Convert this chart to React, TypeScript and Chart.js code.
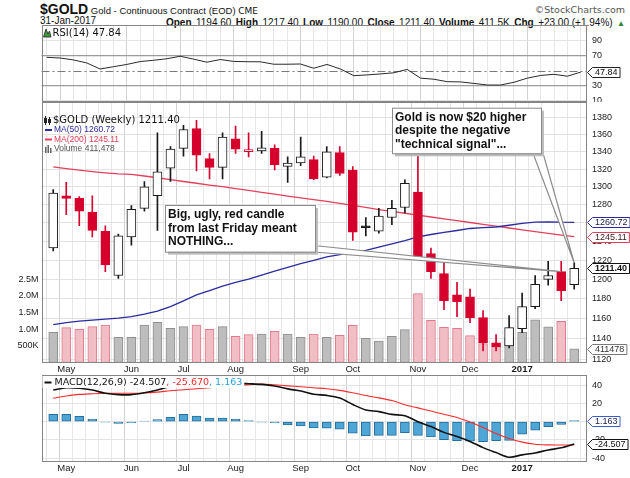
import React, { useEffect, useRef } from 'react';
import { Chart, registerables } from 'chart.js';

Chart.register(...registerables);

const SANS = "'Liberation Sans', Arial, Helvetica, sans-serif";
const NARROW = "'Liberation Sans Narrow', 'Arial Narrow', 'Liberation Sans', Arial, sans-serif";
const VERD = "'DejaVu Sans', Verdana, sans-serif";

// ---------------- data (weekly, $GOLD) ----------------
const weeks = [
  '2016-04-25', '2016-05-02', '2016-05-09', '2016-05-16', '2016-05-23', '2016-05-30',
  '2016-06-06', '2016-06-13', '2016-06-20', '2016-06-27', '2016-07-04', '2016-07-11',
  '2016-07-18', '2016-07-25', '2016-08-01', '2016-08-08', '2016-08-15', '2016-08-22',
  '2016-08-29', '2016-09-05', '2016-09-12', '2016-09-19', '2016-09-26', '2016-10-03',
  '2016-10-10', '2016-10-17', '2016-10-24', '2016-10-31', '2016-11-07', '2016-11-14',
  '2016-11-21', '2016-11-28', '2016-12-05', '2016-12-12', '2016-12-19', '2016-12-26',
  '2017-01-02', '2017-01-09', '2017-01-16', '2017-01-23', '2017-01-30',
];
const opens = [
  1233, 1290, 1287, 1272, 1251, 1204, 1245, 1276, 1290, 1321,
  1344, 1367, 1332, 1322, 1355, 1340, 1341, 1344, 1323, 1327,
  1331, 1311, 1339, 1319, 1257, 1251, 1266, 1277, 1294, 1227,
  1206, 1184, 1182, 1161, 1136, 1133, 1150, 1172, 1200, 1208, 1194.6,
];
const highs = [
  1297, 1305, 1289, 1290, 1257, 1248, 1279, 1306, 1362, 1346,
  1371, 1377, 1338, 1362, 1370, 1362, 1364, 1348, 1334, 1357,
  1335, 1346, 1346, 1323, 1266, 1276, 1285, 1308, 1338, 1233,
  1221, 1197, 1190, 1168, 1144, 1163, 1186, 1204, 1219, 1219, 1217.4,
];
const lows = [
  1230, 1269, 1257, 1245, 1208, 1201, 1236, 1273, 1252, 1306,
  1335, 1318, 1309, 1309, 1338, 1334, 1338, 1319, 1305, 1324,
  1308, 1310, 1313, 1241, 1246, 1249, 1258, 1271, 1222, 1201,
  1169, 1162, 1156, 1128, 1128, 1131, 1146, 1170, 1194, 1178, 1190,
];
const closes = [
  1293, 1287, 1273, 1252, 1215, 1246, 1275, 1300, 1317, 1343,
  1366, 1336, 1322, 1357, 1343, 1342.5, 1344.5, 1325, 1327, 1334,
  1309, 1340, 1315, 1250, 1255, 1267.5, 1276, 1304, 1223, 1208,
  1178, 1177, 1161, 1136, 1132, 1151, 1172, 1195, 1204, 1188.4, 1211.4,
];
const volumes = [
  907000, 1045000, 997000, 1075000, 1126000, 757000, 757000, 1126000, 1207000, 1027000,
  1075000, 1126000, 997000, 1075000, 787000, 835000, 856000, 937000, 856000, 757000,
  856000, 757000, 816000, 1117000, 727000, 646000, 787000, 985000, 2066000, 1267000,
  1057000, 1027000, 805000, 565000, 480000, 750000, 907000, 1280000, 1070000, 1237000, 411478,
];
const ma50 = [
  1154, 1156, 1157.5, 1158.5, 1159.5, 1160.5, 1162, 1164.5, 1167.5, 1172,
  1178, 1184, 1188.5, 1193, 1197, 1200.3, 1204.5, 1208.5, 1212.5, 1216.5,
  1220, 1223.5, 1226, 1228.5, 1230.5, 1234, 1237.5, 1241, 1245, 1247.5,
  1249.8, 1251.8, 1254, 1255, 1255.6, 1257.5, 1259.5, 1261, 1261.2, 1260.8, 1260.72,
];
const ma200 = [
  1322.6, 1320.6, 1318.8, 1317.2, 1315.8, 1314.6, 1314, 1312.2, 1310.2, 1308.1,
  1306, 1304, 1302, 1300.2, 1298, 1296, 1293.8, 1291.7, 1289.5, 1287.6,
  1285.7, 1283.8, 1281.5, 1279.2, 1277, 1274.7, 1272.6, 1270.6, 1268.5, 1266.5,
  1264.5, 1262.5, 1260.5, 1258.5, 1256.6, 1254.5, 1252.5, 1250.5, 1248.6, 1246.8, 1245.11,
];
const rsi = [
  67.4, 66.5, 64, 60, 52, 55, 58, 61.8, 63.5, 65.5,
  68.8, 65, 61, 64.5, 62, 61.6, 61.5, 58.3, 58.3, 58.6,
  53, 58, 52, 43.2, 44.2, 45.5, 47, 51.5, 40, 38.5,
  35.3, 35, 33, 30.9, 30.9, 34.5, 40, 43.5, 45, 42.5, 47.84,
];
const macd = [
  34.5, 37, 36.5, 34.5, 31, 29.5, 29.5, 31.5, 34.5, 38.5,
  42.5, 42.5, 41.5, 42.2, 42, 41.4, 40.7, 39, 35.8, 33.5,
  30, 28.7, 25.8, 18.7, 12.7, 10.9, 7.9, 6.4, -0.1, -5.4,
  -11.8, -16.4, -21.8, -28.5, -33.9, -39, -36.4, -34.3, -31.1, -28.7, -24.507,
];
const signal = [
  25.7, 28, 29.8, 30.5, 31, 31, 31, 31.3, 32.3, 33.8,
  34.9, 36, 37, 38.2, 39.3, 40.4, 41.2, 40.3, 39.1, 38.2,
  37, 36, 34.2, 31.5, 28.5, 26, 23, 18.5, 15, 11.5,
  8, 4.5, -0.5, -6.5, -13, -18.5, -22.5, -24.8, -25.5, -25.7, -25.67,
];
const hist = [
  8, 8, 5.8, 2.8, -0.7, -1.9, -1.2, 0.6, 2.1, 4.7,
  8, 6.1, 3.9, 3.9, 2.8, 1, -0.5, -1.2, -3.6, -4.7,
  -7, -7.3, -8.4, -12.8, -15.8, -15.1, -15.1, -12.1, -15.1, -16.9,
  -19.8, -20.9, -21.3, -22, -20.9, -20.5, -13.9, -9.5, -5.6, -3, 1.163,
];

const monthTickIdx = [1, 6, 10, 14, 19, 23, 28, 32, 36];
const monthTickLabels = ['May', 'Jun', 'Jul', 'Aug', 'Sep', 'Oct', 'Nov', 'Dec', '2017'];
const priceTicks = [1120, 1140, 1160, 1180, 1200, 1220, 1240, 1260, 1280, 1300, 1320, 1340, 1360, 1380];
const volumeTicks = [500000, 1000000, 1500000, 2000000, 2500000];
const volumeTickLabels = ['500K', '1.0M', '1.5M', '2.0M', '2.5M'];
const rsiTicks = [10, 30, 50, 70, 90];
const macdTicks = [-40, -20, 0, 20, 40];

// ---------------- styling helpers ----------------
const RED = '#d5002c';
const UP = '#1a1a1a';
const isRed = (i: number) => i > 0 && closes[i] < closes[i - 1];
const isHollow = (i: number) => closes[i] >= opens[i];
const candleColor = (i: number) => (isRed(i) ? RED : UP);

const X_MIN = -0.39;
const X_MAX = 40.47;
const PLOT_LEFT = 41.5;
const RIGHT_W = 43;

const fixWidth = (w: number) => (s: any) => {
  s.width = w;
  s.paddingTop = 0;
  s.paddingBottom = 0;
  s.paddingLeft = 0;
  s.paddingRight = 0;
};

function xAxis(labels: boolean, height: number) {
  return {
    type: 'linear',
    position: 'bottom',
    min: X_MIN,
    max: X_MAX,
    afterBuildTicks: (s: any) => {
      s.ticks = weeks.map((_w, i) => ({ value: i }));
    },
    afterFit: (s: any) => {
      s.height = height;
      s.paddingLeft = 0;
      s.paddingRight = 0;
      s.paddingTop = 0;
      s.paddingBottom = 0;
    },
    border: { display: false },
    grid: {
      drawTicks: false,
      color: (c: any) => (c.tick && monthTickIdx.includes(c.tick.value) ? '#d2d2d2' : '#e7e7e7'),
    },
    ticks: {
      display: labels,
      autoSkip: false,
      maxRotation: 0,
      minRotation: 0,
      padding: 1,
      color: '#1a1a1a',
      font: (c: any) => ({ family: SANS, size: 9.5, weight: c.tick && c.tick.value === 36 ? 'bold' : 'normal' }),
      callback: (v: any) => {
        const k = monthTickIdx.indexOf(v);
        return k >= 0 ? monthTickLabels[k] : '';
      },
    },
  };
}

function drawFrame(chart: any) {
  const { ctx, chartArea: a } = chart;
  ctx.save();
  ctx.strokeStyle = '#858585';
  ctx.lineWidth = 1;
  const l = Math.round(a.left) + 0.5;
  const t = Math.round(a.top) + 0.5;
  const r = Math.round(a.right) - 0.5;
  const b = Math.round(a.bottom) - 0.5;
  ctx.strokeRect(l, t, r - l, b - t);
  ctx.restore();
}

function drawTag(ctx: any, x: number, y: number, text: string, stroke: string, color: string, bold = false) {
  ctx.save();
  ctx.font = `${bold ? 'bold ' : ''}9px ${SANS}`;
  const w = ctx.measureText(text).width;
  const h = 10;
  const ax = 5;
  const x0 = Math.round(x) + 0.5;
  const yy = Math.round(y) + 0.5;
  ctx.beginPath();
  ctx.moveTo(x0, yy);
  ctx.lineTo(x0 + ax, yy - h / 2);
  ctx.lineTo(x0 + ax + w + 5, yy - h / 2);
  ctx.lineTo(x0 + ax + w + 5, yy + h / 2);
  ctx.lineTo(x0 + ax, yy + h / 2);
  ctx.closePath();
  ctx.fillStyle = '#ffffff';
  ctx.fill();
  ctx.strokeStyle = stroke;
  ctx.lineWidth = 1;
  ctx.stroke();
  ctx.fillStyle = color;
  ctx.textBaseline = 'middle';
  ctx.fillText(text, x0 + ax + 2.5, yy + 0.5);
  ctx.restore();
}

function drawCallout(ctx: any, box: any, lines: string[], tail: number[][], target: any) {
  ctx.save();
  ctx.beginPath();
  ctx.moveTo(tail[0][0], tail[0][1]);
  ctx.lineTo(target.x, target.y);
  ctx.lineTo(tail[1][0], tail[1][1]);
  ctx.closePath();
  ctx.fillStyle = '#ffffff';
  ctx.fill();
  ctx.strokeStyle = '#8c8c8c';
  ctx.lineWidth = 1.2;
  ctx.stroke();
  ctx.fillStyle = '#bdbdbd';
  ctx.fillRect(box.x + 3, box.y + 3, box.w, box.h);
  ctx.fillStyle = '#ffffff';
  ctx.fillRect(box.x, box.y, box.w, box.h);
  ctx.strokeStyle = '#8a8a8a';
  ctx.lineWidth = 1;
  ctx.strokeRect(box.x + 0.5, box.y + 0.5, box.w, box.h);
  ctx.fillStyle = '#111111';
  ctx.font = `bold 12px ${SANS}`;
  ctx.textBaseline = 'middle';
  lines.forEach((t, k) => ctx.fillText(t, box.x + 3, box.y + 10 + k * 13.3));
  ctx.restore();
}

// ---------------- main panel ----------------
const mainPlugin = {
  id: 'mainDecor',
  afterDraw(chart: any) {
    const { ctx, chartArea: a, scales } = chart;
    drawFrame(chart);
    const n = closes.length - 1;
    // legend
    ctx.save();
    ctx.textBaseline = 'middle';
    const lx = a.left + 2.5;
    ctx.fillStyle = '#222';
    ctx.fillRect(lx + 1, a.top + 14, 1, 9);
    ctx.fillRect(lx, a.top + 16, 3, 5);
    ctx.fillRect(lx + 5, a.top + 15, 1, 8);
    ctx.strokeStyle = '#222';
    ctx.strokeRect(lx + 4.5, a.top + 17.5, 2, 3);
    ctx.font = `10px ${VERD}`;
    ctx.fillStyle = '#111';
    ctx.fillText(`$GOLD (Weekly) ${closes[n].toFixed(2)}`, lx + 9, a.top + 18.7);
    ctx.font = `8.5px ${SANS}`;
    ctx.lineWidth = 2;
    ctx.strokeStyle = '#2b2ba0';
    ctx.beginPath();
    ctx.moveTo(lx + 1, a.top + 28);
    ctx.lineTo(lx + 8, a.top + 28);
    ctx.stroke();
    ctx.fillStyle = '#2b2ba0';
    ctx.fillText(`MA(50) ${ma50[n].toFixed(2)}`, lx + 10, a.top + 28);
    ctx.strokeStyle = '#e4405c';
    ctx.beginPath();
    ctx.moveTo(lx + 1, a.top + 37.5);
    ctx.lineTo(lx + 8, a.top + 37.5);
    ctx.stroke();
    ctx.fillStyle = '#e4405c';
    ctx.fillText(`MA(200) ${ma200[n].toFixed(2)}`, lx + 10, a.top + 37.5);
    ctx.fillStyle = '#666';
    ctx.fillRect(lx + 1, a.top + 45, 1.5, 6);
    ctx.fillRect(lx + 3.5, a.top + 43, 1.5, 8);
    ctx.fillRect(lx + 6, a.top + 46, 1.5, 5);
    ctx.fillStyle = '#555';
    ctx.fillText(`Volume ${volumes[n].toLocaleString('en-US')}`, lx + 10, a.top + 47);
    ctx.restore();

    // callouts
    const px = scales.x;
    const py = scales.price;
    drawCallout(
      ctx,
      { x: 165, y: a.top + 103, w: 150, h: 46.7 },
      ['Big, ugly, red candle', 'from last Friday meant', 'NOTHING...'],
      [[314, a.top + 143.5], [314, a.top + 150]],
      { x: px.getPixelForValue(39), y: py.getPixelForValue(opens[39]) },
    );
    drawCallout(
      ctx,
      { x: 392, y: a.top + 5.7, w: 149, h: 45.6 },
      ['Gold is now $20 higher', 'despite the negative', '"technical signal"...'],
      [[533, a.top + 51.3], [541, a.top + 44]],
      { x: px.getPixelForValue(40), y: py.getPixelForValue(highs[40]) },
    );

    // value tags
    drawTag(ctx, a.right, py.getPixelForValue(ma50[n]), ma50[n].toFixed(2), '#2b2ba0', '#1a1a4a');
    drawTag(ctx, a.right, py.getPixelForValue(ma200[n]), ma200[n].toFixed(2), '#e4405c', '#3a1a1a');
    drawTag(ctx, a.right, py.getPixelForValue(closes[n]), closes[n].toFixed(2), '#111', '#111', true);
    drawTag(ctx, a.right, scales.vol.getPixelForValue(volumes[n]), String(volumes[n]), '#777', '#333');
  },
};

function buildMain(canvas: HTMLCanvasElement) {
  const idx = closes.map((_c, i) => i);
  return new Chart(canvas, {
    type: 'bar',
    data: {
      datasets: [
        {
          type: 'bar',
          label: 'Volume',
          yAxisID: 'vol',
          data: idx.map((i) => ({ x: i, y: volumes[i] })),
          backgroundColor: idx.map((i) => (isRed(i) ? '#f1bec6' : '#bdbdbd')),
          borderColor: idx.map((i) => (isRed(i) ? '#e07a8c' : '#909090')),
          borderWidth: 1,
          borderSkipped: false,
          barThickness: 9,
          grouped: false,
          order: 10,
        },
        {
          type: 'line',
          label: 'MA(200)',
          yAxisID: 'price',
          data: idx.map((i) => ({ x: i, y: ma200[i] })),
          borderColor: '#e4405c',
          borderWidth: 1.3,
          pointRadius: 0,
          tension: 0,
          order: 6,
        },
        {
          type: 'line',
          label: 'MA(50)',
          yAxisID: 'price',
          data: idx.map((i) => ({ x: i, y: ma50[i] })),
          borderColor: '#2b2ba0',
          borderWidth: 1.3,
          pointRadius: 0,
          tension: 0,
          order: 5,
        },
        {
          type: 'bar',
          label: 'wick',
          yAxisID: 'price',
          data: idx.map((i) => ({ x: i, y: [lows[i], highs[i]] })),
          backgroundColor: idx.map(candleColor),
          borderWidth: 0,
          barThickness: 1,
          grouped: false,
          order: 2,
        },
        {
          type: 'bar',
          label: 'body',
          yAxisID: 'price',
          data: idx.map((i) => ({ x: i, y: [opens[i], closes[i]] })),
          backgroundColor: idx.map((i) => (isHollow(i) ? '#ffffff' : candleColor(i))),
          borderColor: idx.map(candleColor),
          borderWidth: 1,
          borderSkipped: false,
          barThickness: 9,
          grouped: false,
          order: 1,
        },
      ],
    },
    options: {
      responsive: false,
      maintainAspectRatio: false,
      animation: false,
      events: [],
      layout: { padding: 0 },
      plugins: { legend: { display: false }, tooltip: { enabled: false } },
      scales: {
        x: xAxis(true, 15.5),
        vol: {
          type: 'linear',
          position: 'left',
          min: 0,
          max: 7820000,
          afterBuildTicks: (s: any) => {
            s.ticks = volumeTicks.map((v) => ({ value: v }));
          },
          afterFit: fixWidth(PLOT_LEFT),
          border: { display: false },
          grid: { display: false, drawTicks: false },
          ticks: {
            padding: 3,
            color: '#222',
            font: { family: SANS, size: 9 },
            callback: (v: any) => {
              const k = volumeTicks.indexOf(v);
              return k >= 0 ? volumeTickLabels[k] : '';
            },
          },
        },
        price: {
          type: 'logarithmic',
          position: 'right',
          min: 1116.8,
          max: 1398.9,
          bounds: 'data',
          afterBuildTicks: (s: any) => {
            s.ticks = priceTicks.map((v) => ({ value: v }));
          },
          afterFit: fixWidth(RIGHT_W),
          border: { display: false },
          grid: { drawTicks: false, color: '#e2e2e2' },
          ticks: {
            padding: 5,
            color: '#222',
            font: { family: SANS, size: 9 },
            callback: (v: any) => String(v),
          },
        },
      },
    },
    plugins: [mainPlugin],
  } as any);
}

// ---------------- RSI panel ----------------
const rsiPlugin = {
  id: 'rsiDecor',
  beforeDatasetsDraw(chart: any) {
    const { ctx, chartArea: a, scales } = chart;
    const y = Math.round(scales.y.getPixelForValue(50)) + 0.5;
    ctx.save();
    ctx.strokeStyle = '#7a7a7a';
    ctx.lineWidth = 1;
    ctx.setLineDash([8, 3, 2, 3]);
    ctx.beginPath();
    ctx.moveTo(a.left, y);
    ctx.lineTo(a.right, y);
    ctx.stroke();
    ctx.restore();
  },
  afterDraw(chart: any) {
    const { ctx, chartArea: a, scales } = chart;
    drawFrame(chart);
    ctx.save();
    ctx.fillStyle = '#3f9a3f';
    ctx.beginPath();
    ctx.moveTo(a.left + 2, a.top + 12);
    ctx.lineTo(a.left + 4.5, a.top + 4);
    ctx.lineTo(a.left + 6.5, a.top + 9);
    ctx.lineTo(a.left + 8, a.top + 6);
    ctx.lineTo(a.left + 9.5, a.top + 12);
    ctx.closePath();
    ctx.fill();
    ctx.strokeStyle = '#222';
    ctx.lineWidth = 0.8;
    ctx.stroke();
    ctx.fillStyle = '#111';
    ctx.font = `10px ${VERD}`;
    ctx.textBaseline = 'middle';
    ctx.fillText(`RSI(14) ${rsi[rsi.length - 1].toFixed(2)}`, a.left + 11, a.top + 8.5);
    ctx.restore();
    const last = rsi[rsi.length - 1];
    drawTag(ctx, a.right, scales.y.getPixelForValue(last), last.toFixed(2), '#222', '#111');
  },
};

function buildRsi(canvas: HTMLCanvasElement) {
  return new Chart(canvas, {
    type: 'line',
    data: {
      datasets: [
        {
          label: 'RSI(14)',
          data: rsi.map((v, i) => ({ x: i, y: v })),
          borderColor: '#2a2a2a',
          borderWidth: 1,
          pointRadius: 0,
          tension: 0,
        },
      ],
    },
    options: {
      responsive: false,
      maintainAspectRatio: false,
      animation: false,
      events: [],
      layout: { padding: { left: PLOT_LEFT, top: 3, right: 0, bottom: 0 } },
      plugins: { legend: { display: false }, tooltip: { enabled: false } },
      scales: {
        x: xAxis(false, 0),
        y: {
          type: 'linear',
          position: 'right',
          min: 8.5,
          max: 110,
          afterBuildTicks: (s: any) => {
            s.ticks = rsiTicks.map((v) => ({ value: v }));
          },
          afterFit: fixWidth(RIGHT_W),
          border: { display: false },
          grid: {
            drawTicks: false,
            color: (c: any) => {
              const v = c.tick ? c.tick.value : 0;
              if (v === 30 || v === 70) return '#9c9c9c';
              if (v === 50) return 'rgba(0,0,0,0)';
              return '#e4e4e4';
            },
            lineWidth: (c: any) => (c.tick && (c.tick.value === 30 || c.tick.value === 70) ? 1.3 : 1),
          },
          ticks: {
            padding: 5,
            color: '#222',
            font: { family: SANS, size: 9 },
            callback: (v: any) => String(v),
          },
        },
      },
    },
    plugins: [rsiPlugin],
  } as any);
}

// ---------------- MACD panel ----------------
const macdPlugin = {
  id: 'macdDecor',
  afterDraw(chart: any) {
    const { ctx, chartArea: a, scales } = chart;
    drawFrame(chart);
    const n = macd.length - 1;
    ctx.save();
    ctx.font = `9.5px ${VERD}`;
    ctx.textBaseline = 'middle';
    const p1 = `MACD(12,26,9) ${macd[n].toFixed(3)}`;
    const p2 = `, ${signal[n].toFixed(3)}`;
    const p3 = `, ${hist[n].toFixed(3)}`;
    const w1 = ctx.measureText(p1).width;
    const w2 = ctx.measureText(p2).width;
    const w3 = ctx.measureText(p3).width;
    const x0 = a.left + 2;
    const y0 = a.top + 7.5;
    ctx.fillStyle = '#ffffff';
    ctx.fillRect(a.left + 1, a.top + 1, 12 + w1 + w2 + w3 + 2, 12);
    ctx.strokeStyle = '#111';
    ctx.lineWidth = 2;
    ctx.beginPath();
    ctx.moveTo(x0 + 1, y0);
    ctx.lineTo(x0 + 8, y0);
    ctx.stroke();
    ctx.fillStyle = '#111';
    ctx.fillText(p1, x0 + 11, y0);
    ctx.fillStyle = '#ff2a2a';
    ctx.fillText(p2, x0 + 11 + w1, y0);
    ctx.fillStyle = '#2aa0e0';
    ctx.fillText(p3, x0 + 11 + w1 + w2, y0);
    ctx.restore();
    drawTag(ctx, a.right, scales.y.getPixelForValue(hist[n]), hist[n].toFixed(3), '#3b5bd0', '#1a1a4a');
    drawTag(ctx, a.right, scales.y.getPixelForValue(macd[n]), macd[n].toFixed(3), '#111', '#111');
  },
};

function buildMacd(canvas: HTMLCanvasElement) {
  const idx = macd.map((_m, i) => i);
  return new Chart(canvas, {
    type: 'bar',
    data: {
      datasets: [
        {
          type: 'bar',
          label: 'Histogram',
          data: idx.map((i) => ({ x: i, y: hist[i] })),
          backgroundColor: '#4ea6d6',
          borderColor: '#256f9c',
          borderWidth: 1,
          borderSkipped: false,
          barThickness: 9,
          grouped: false,
          order: 3,
        },
        {
          type: 'line',
          label: 'Signal',
          data: idx.map((i) => ({ x: i, y: signal[i] })),
          borderColor: '#ff2a2a',
          borderWidth: 1.1,
          pointRadius: 0,
          tension: 0.3,
          order: 2,
        },
        {
          type: 'line',
          label: 'MACD',
          data: idx.map((i) => ({ x: i, y: macd[i] })),
          borderColor: '#111111',
          borderWidth: 1.6,
          pointRadius: 0,
          tension: 0.3,
          order: 1,
        },
      ],
    },
    options: {
      responsive: false,
      maintainAspectRatio: false,
      animation: false,
      events: [],
      layout: { padding: { left: PLOT_LEFT, top: 3, right: 0, bottom: 0 } },
      plugins: { legend: { display: false }, tooltip: { enabled: false } },
      scales: {
        x: xAxis(true, 16.3),
        y: {
          type: 'linear',
          position: 'right',
          min: -43.9,
          max: 51,
          afterBuildTicks: (s: any) => {
            s.ticks = macdTicks.map((v) => ({ value: v }));
          },
          afterFit: fixWidth(RIGHT_W),
          border: { display: false },
          grid: { drawTicks: false, color: '#e4e4e4' },
          ticks: {
            padding: 5,
            color: '#222',
            font: { family: SANS, size: 9 },
            callback: (v: any) => String(v),
          },
        },
      },
    },
    plugins: [macdPlugin],
  } as any);
}

// ---------------- header ----------------
function Header() {
  const lab = { fontWeight: 'bold' as const, fontSize: 10 };
  const val = { fontSize: 10 };
  return (
    <>
      <div style={{ position: 'absolute', left: 40, top: 1, whiteSpace: 'nowrap', color: '#111', fontFamily: SANS, lineHeight: '16px' }}>
        <span style={{ fontWeight: 'bold', fontSize: 14, fontFamily: NARROW }}>$GOLD</span>
        <span style={{ fontSize: 9.5 }}> Gold - Continuous Contract (EOD) </span>
        <span style={{ fontSize: 9, fontFamily: VERD }}>CME</span>
      </div>
      <div style={{ position: 'absolute', right: 5, top: 3, whiteSpace: 'nowrap', color: '#555', fontFamily: VERD, fontSize: 9.5, lineHeight: '14px' }}>
        ©StockCharts.com
      </div>
      <div style={{ position: 'absolute', left: 40, top: 15, whiteSpace: 'nowrap', color: '#111', fontFamily: SANS, fontSize: 10, lineHeight: '12px' }}>
        31-Jan-2017
      </div>
      <div style={{ position: 'absolute', right: 5, top: 15, whiteSpace: 'nowrap', color: '#111', fontFamily: SANS, lineHeight: '12px' }}>
        <span style={lab}>Open</span> <span style={val}>1194.60</span> <span style={lab}>High</span> <span style={val}>1217.40</span>{' '}
        <span style={lab}>Low</span> <span style={val}>1190.00</span> <span style={lab}>Close</span> <span style={val}>1211.40</span>{' '}
        <span style={lab}>Volume</span> <span style={val}>411.5K</span> <span style={lab}>Chg</span>{' '}
        <span style={val}>+23.00 (+1.94%)</span> <span style={{ fontSize: 8, color: '#2a8a2a' }}>▲</span>
      </div>
    </>
  );
}

export default function App() {
  const rsiRef = useRef<HTMLCanvasElement>(null);
  const mainRef = useRef<HTMLCanvasElement>(null);
  const macdRef = useRef<HTMLCanvasElement>(null);

  useEffect(() => {
    const charts: any[] = [];
    if (rsiRef.current) charts.push(buildRsi(rsiRef.current));
    if (mainRef.current) charts.push(buildMain(mainRef.current));
    if (macdRef.current) charts.push(buildMacd(macdRef.current));
    return () => charts.forEach((c) => c.destroy());
  }, []);

  return (
    <div style={{ position: 'fixed', left: 0, top: 0, width: 630, height: 478, background: '#ffffff', overflow: 'hidden' }}>
      <Header />
      <canvas ref={rsiRef} width={630} height={80} style={{ position: 'absolute', left: 0, top: 22, width: 630, height: 80 }} />
      <canvas ref={mainRef} width={630} height={276} style={{ position: 'absolute', left: 0, top: 102, width: 630, height: 276 }} />
      <canvas ref={macdRef} width={630} height={106} style={{ position: 'absolute', left: 0, top: 372, width: 630, height: 106 }} />
    </div>
  );
}
